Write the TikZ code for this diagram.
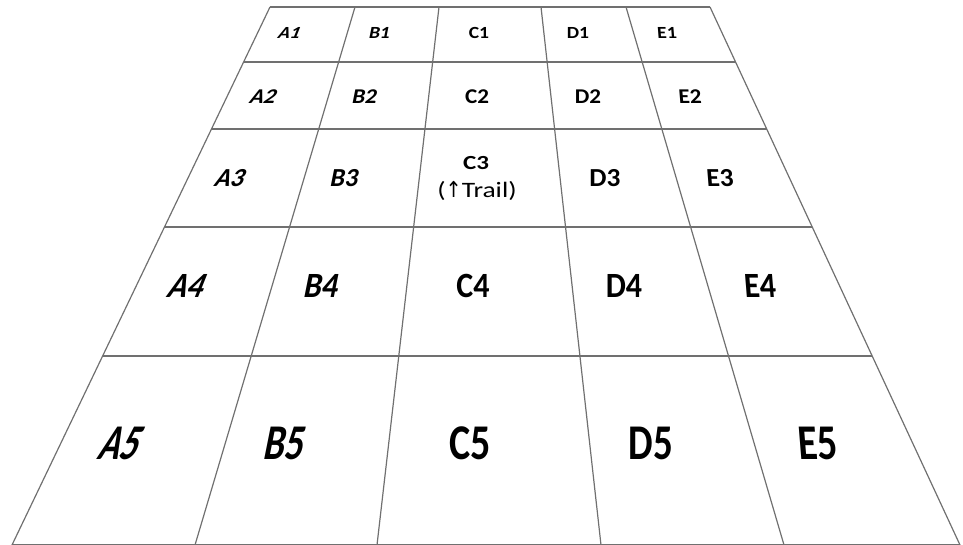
\documentclass[tikz,border=0pt]{standalone}
\usepackage{fontspec}
\usepackage{graphicx}
\setmainfont{Carlito}
\newfontfamily\arrowfont{DejaVu Sans}
\usetikzlibrary{calc}
\definecolor{gridgray}{RGB}{112,112,112}
\tikzset{
  gridline/.style={draw=gridgray, line width=1.2pt},
  rowline/.style={draw=gridgray, line width=1.8pt},
  lbl/.style={inner sep=0pt, font=\bfseries, text=black},
}
\newcommand\lab[7]{\node[lbl, xslant=#6] (#1) at (#2,#3) {\fontsize{#4}{#4}\selectfont\scalebox{#5}[1]{#7}};}
\begin{document}
\begin{tikzpicture}[x=1pt,y=-1pt]
\useasboundingbox (0,0) rectangle (963,545);
% grid corners
\coordinate (t0) at (270,7);
\coordinate (t1) at (355,7);
\coordinate (t2) at (439,7);
\coordinate (t3) at (541,7);
\coordinate (t4) at (626,7);
\coordinate (t5) at (710,7);
\coordinate (b0) at (12,545);
\coordinate (b1) at (195,545);
\coordinate (b2) at (377,545);
\coordinate (b3) at (601,545);
\coordinate (b4) at (784,545);
\coordinate (b5) at (960,545);
% vertical lines
\foreach \i in {0,...,5}{\draw[gridline] (t\i) -- (b\i);}
% horizontal lines
\foreach \t in {0,0.1022,0.2268,0.4089,0.6487,1}{
  \draw[rowline] ($(t0)!\t!(b0)$) -- ($(t5)!\t!(b5)$);
}
% row 1
\lab{A1}{290}{33}{17}{1.15}{0.4}{A1}
\lab{B1}{380}{33}{17}{1.15}{0.2}{B1}
\lab{C1}{479}{33}{17}{1.15}{0}{C1}
\lab{D1}{578}{33}{17}{1.15}{0}{D1}
\lab{E1}{667}{33}{17}{1.15}{-0.08}{E1}
% row 2
\lab{A2}{264}{97}{21}{1.1}{0.4}{A2}
\lab{B2}{365}{97}{21}{1.1}{0.2}{B2}
\lab{C2}{477}{97}{21}{1.1}{0}{C2}
\lab{D2}{588}{97}{21}{1.1}{0}{D2}
\lab{E2}{690}{97}{21}{1.1}{-0.08}{E2}
% row 3
\lab{A3}{231}{178}{26}{1.0}{0.4}{A3}
\lab{B3}{345}{178}{26}{1.0}{0.2}{B3}
\lab{C3}{476}{163}{20}{1.25}{0}{C3}
\node[inner sep=0pt] (trail) at (477,191) {\fontsize{22}{22}\selectfont\scalebox{1.25}[1]{(\scalebox{0.7}[1]{\arrowfont ↑}Trail)}};
\lab{D3}{605}{178}{26}{1.05}{0}{D3}
\lab{E3}{720}{178}{26}{1.05}{-0.08}{E3}
% row 4
\lab{A4}{188}{286}{35.5}{0.9}{0.4}{A4}
\lab{B4}{322}{286}{35.5}{0.9}{0.2}{B4}
\lab{C4}{473}{286}{35.5}{0.9}{0}{C4}
\lab{D4}{624}{286}{35.5}{0.9}{0}{D4}
\lab{E4}{760}{286}{35.5}{0.9}{-0.08}{E4}
% row 5
\lab{A5}{122}{443}{50}{0.7}{0.4}{A5}
\lab{B5}{286}{443}{50}{0.75}{0.2}{B5}
\lab{C5}{470}{443}{50}{0.8}{0}{C5}
\lab{D5}{651}{443}{50}{0.78}{0}{D5}
\lab{E5}{818}{443}{50}{0.8}{-0.08}{E5}
\end{tikzpicture}
\end{document}
